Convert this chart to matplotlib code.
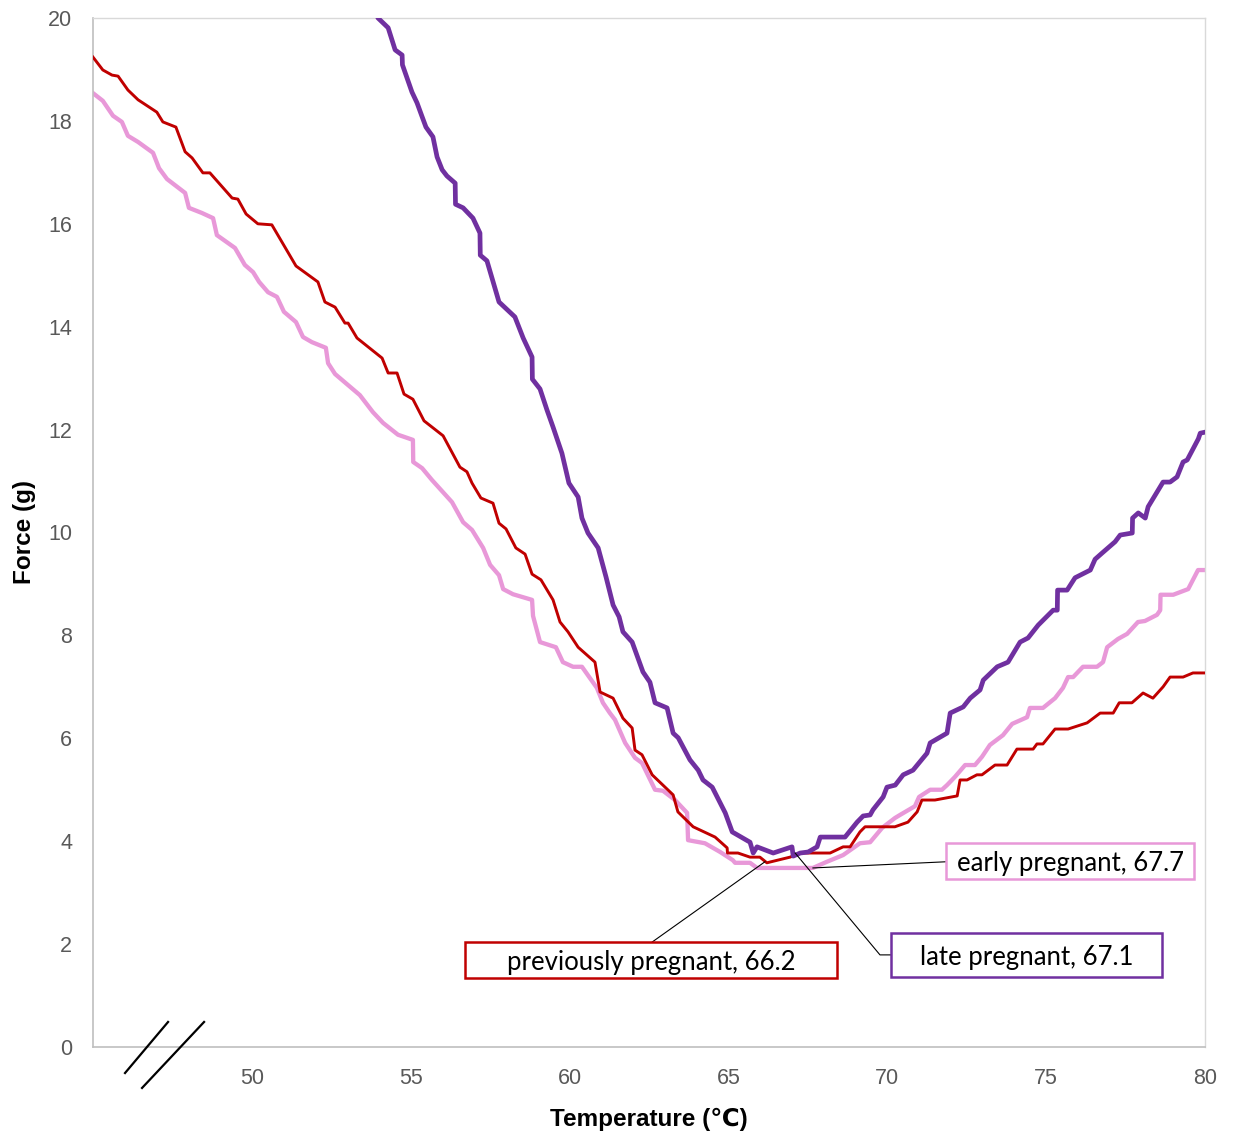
import matplotlib
matplotlib.use("Agg")
import matplotlib.pyplot as plt
from matplotlib.patches import Rectangle
from matplotlib.lines import Line2D

# --- data ---
prev_T = [45.00, 45.31, 45.60, 45.79, 46.10, 46.42, 47.01, 47.20, 47.61, 47.90,
          48.12, 48.46, 48.68, 49.38, 49.56, 49.82, 50.19, 50.63, 51.39, 52.08,
          52.30, 52.62, 52.93, 53.03, 53.31, 54.10, 54.29, 54.57, 54.79, 55.07,
          55.42, 56.02, 56.55, 56.77, 56.93, 57.21, 57.59, 57.78, 58.00, 58.31,
          58.60, 58.82, 59.10, 59.48, 59.70, 59.95, 60.27, 60.80, 60.96, 61.37,
          61.68, 61.97, 62.06, 62.28, 62.60, 63.26, 63.41, 63.89, 64.58, 64.96,
          64.97, 65.30, 65.68, 65.99, 66.21, 66.94, 67.25, 68.20, 68.61, 68.83,
          69.14, 69.30, 70.24, 70.65, 70.94, 71.09, 71.50, 72.20, 72.29, 72.51,
          72.82, 72.98, 73.39, 73.77, 74.08, 74.59, 74.71, 74.90, 75.28, 75.69,
          76.29, 76.70, 77.11, 77.30, 77.70, 78.05, 78.36, 78.68, 78.90, 79.31,
          79.62, 80.00]
prev_F = [19.24, 18.99, 18.89, 18.87, 18.60, 18.41, 18.17, 17.98, 17.88, 17.40,
          17.28, 16.99, 16.99, 16.50, 16.48, 16.19, 16.00, 15.98, 15.18, 14.87,
          14.48, 14.38, 14.07, 14.07, 13.78, 13.39, 13.10, 13.10, 12.69, 12.59,
          12.17, 11.88, 11.27, 11.18, 10.96, 10.67, 10.57, 10.18, 10.07, 9.70,
          9.58, 9.19, 9.08, 8.69, 8.26, 8.07, 7.77, 7.48, 6.90, 6.78,
          6.39, 6.20, 5.77, 5.68, 5.29, 4.90, 4.57, 4.28, 4.08, 3.87,
          3.77, 3.77, 3.69, 3.69, 3.58, 3.69, 3.77, 3.77, 3.89, 3.89,
          4.18, 4.28, 4.28, 4.37, 4.57, 4.80, 4.80, 4.88, 5.19, 5.19,
          5.29, 5.29, 5.48, 5.48, 5.79, 5.79, 5.89, 5.89, 6.18, 6.18,
          6.30, 6.49, 6.49, 6.69, 6.69, 6.88, 6.78, 7.00, 7.19, 7.19,
          7.27, 7.27]

early_T = [45.00, 45.31, 45.63, 45.91, 46.10, 46.42, 46.89, 47.08, 47.33, 47.90,
           48.02, 48.43, 48.78, 48.90, 49.47, 49.78, 50.04, 50.23, 50.51, 50.79,
           51.01, 51.39, 51.61, 51.89, 52.33, 52.40, 52.62, 53.40, 53.81, 54.13,
           54.60, 55.07, 55.08, 55.36, 55.67, 56.30, 56.65, 56.93, 57.28, 57.50,
           57.78, 57.91, 58.22, 58.82, 58.85, 59.07, 59.57, 59.79, 60.11, 60.39,
           60.86, 61.05, 61.27, 61.43, 61.75, 62.06, 62.28, 62.69, 62.94, 63.32,
           63.70, 63.73, 64.26, 64.74, 65.14, 65.21, 65.68, 65.90, 67.66, 68.10,
           68.61, 69.14, 69.46, 69.84, 70.24, 70.40, 70.87, 71.00, 71.35, 71.72,
           71.88, 72.13, 72.45, 72.76, 72.98, 73.23, 73.64, 73.93, 74.40, 74.49,
           74.90, 75.28, 75.53, 75.69, 75.85, 76.16, 76.60, 76.79, 76.92, 77.26,
           77.55, 77.89, 78.11, 78.49, 78.59, 78.60, 79.00, 79.47, 79.78, 80.00]
early_F = [18.54, 18.39, 18.10, 17.98, 17.71, 17.59, 17.38, 17.08, 16.87, 16.60,
           16.31, 16.21, 16.11, 15.78, 15.53, 15.20, 15.06, 14.87, 14.67, 14.58,
           14.29, 14.09, 13.80, 13.70, 13.59, 13.29, 13.08, 12.67, 12.34, 12.13,
           11.90, 11.80, 11.37, 11.25, 11.02, 10.59, 10.20, 10.05, 9.70, 9.37,
           9.17, 8.90, 8.80, 8.69, 8.38, 7.87, 7.77, 7.48, 7.39, 7.39,
           6.98, 6.69, 6.49, 6.36, 5.91, 5.62, 5.52, 5.00, 4.98, 4.80,
           4.55, 4.02, 3.96, 3.79, 3.63, 3.58, 3.58, 3.48, 3.48, 3.60,
           3.73, 3.96, 3.98, 4.26, 4.45, 4.51, 4.68, 4.86, 5.00, 5.00,
           5.09, 5.25, 5.48, 5.48, 5.64, 5.87, 6.06, 6.28, 6.41, 6.59,
           6.59, 6.78, 6.98, 7.19, 7.19, 7.39, 7.39, 7.48, 7.77, 7.93,
           8.03, 8.26, 8.28, 8.40, 8.49, 8.79, 8.79, 8.90, 9.27, 9.27]

late_T = [53.88, 53.97, 54.29, 54.51, 54.73, 54.74, 55.04, 55.20, 55.36, 55.48,
          55.70, 55.83, 55.99, 56.14, 56.40, 56.41, 56.65, 56.96, 57.18, 57.19,
          57.40, 57.78, 58.28, 58.54, 58.82, 58.83, 59.07, 59.29, 59.48, 59.76,
          59.98, 60.27, 60.39, 60.58, 60.90, 61.15, 61.37, 61.56, 61.68, 61.97,
          62.31, 62.53, 62.69, 63.07, 63.26, 63.42, 63.79, 64.05, 64.20, 64.49,
          64.90, 65.12, 65.68, 65.78, 65.90, 66.41, 67.00, 67.04, 67.26, 67.51,
          67.79, 67.89, 68.67, 69.05, 69.24, 69.46, 69.55, 69.87, 69.99, 70.25,
          70.50, 70.81, 71.25, 71.35, 71.88, 71.98, 72.39, 72.61, 72.92, 73.02,
          73.46, 73.80, 74.18, 74.43, 74.75, 75.22, 75.35, 75.36, 75.66, 75.91,
          76.39, 76.54, 76.76, 77.17, 77.33, 77.71, 77.72, 77.90, 78.12, 78.21,
          78.68, 78.90, 79.12, 79.31, 79.44, 79.79, 79.85, 80.00]
late_F = [20.15, 20.00, 19.81, 19.38, 19.28, 19.09, 18.56, 18.35, 18.08, 17.88,
          17.69, 17.30, 17.05, 16.93, 16.79, 16.38, 16.31, 16.11, 15.82, 15.39,
          15.28, 14.48, 14.19, 13.78, 13.41, 12.98, 12.79, 12.38, 12.05, 11.54,
          10.96, 10.69, 10.28, 9.99, 9.70, 9.13, 8.59, 8.36, 8.07, 7.87,
          7.29, 7.09, 6.69, 6.59, 6.10, 6.01, 5.58, 5.38, 5.19, 5.05,
          4.55, 4.18, 3.98, 3.77, 3.89, 3.77, 3.89, 3.71, 3.77, 3.79,
          3.89, 4.08, 4.08, 4.37, 4.49, 4.51, 4.61, 4.86, 5.05, 5.09,
          5.29, 5.38, 5.71, 5.91, 6.10, 6.49, 6.61, 6.78, 6.94, 7.13,
          7.39, 7.48, 7.87, 7.95, 8.20, 8.49, 8.49, 8.88, 8.88, 9.12,
          9.27, 9.48, 9.60, 9.82, 9.95, 9.99, 10.28, 10.38, 10.28, 10.50,
          10.98, 10.98, 11.08, 11.37, 11.41, 11.82, 11.93, 11.95]

labels = ["previously pregnant, 66.2", "early pregnant, 67.7", "late pregnant, 67.1"]
colors = ["#C00000", "#E898D8", "#7030A0"]

# --- figure ---
fig = plt.figure(figsize=(12.33, 11.32), dpi=100)
ax = fig.add_axes([0.0754, 0.0751, 0.9019, 0.909])

ax.plot(prev_T, prev_F, color=colors[0], lw=2.1, zorder=3)
ax.plot(early_T, early_F, color=colors[1], lw=3.1, zorder=2)
ax.plot(late_T, late_F, color=colors[2], lw=3.4, zorder=4)

ax.set_xlim(45, 80)
ax.set_ylim(0, 20)
ax.set_xticks([50, 55, 60, 65, 70, 75, 80])
ax.set_yticks(range(0, 21, 2))
ax.tick_params(length=0, pad=15, labelsize=15.5, labelcolor="#595959")
for t in ax.get_xticklabels() + ax.get_yticklabels():
    t.set_fontfamily(["Liberation Sans", "DejaVu Sans"])

for side in ["left", "bottom"]:
    ax.spines[side].set_color("#bfbfbf")
    ax.spines[side].set_linewidth(1.2)
for side in ["top", "right"]:
    ax.spines[side].set_color("#d9d9d9")
    ax.spines[side].set_linewidth(1.0)

ax.set_xlabel("Temperature (\u2103)", fontsize=17.5, fontweight="bold",
              family=["Liberation Sans", "DejaVu Sans"], labelpad=14)
ax.set_ylabel("Force (g)", fontsize=17.5, fontweight="bold",
              family=["Liberation Sans", "DejaVu Sans"], labelpad=9)

# --- label boxes with leader lines ---
boxes = [(56.71, 68.42, 1.34, 2.04), (71.85, 79.66, 3.27, 3.96), (70.12, 78.65, 1.36, 2.22)]
for (x0, x1, y0, y1), lab, c in zip(boxes, labels, colors):
    ax.add_patch(Rectangle((x0, y0), x1 - x0, y1 - y0, fill=True, facecolor="white",
                           edgecolor=c, lw=1.8, zorder=6))
    ax.text((x0 + x1) / 2, (y0 + y1) / 2 - 0.05, lab, ha="center", va="center",
            fontsize=18.5, family="Lato", color="black", zorder=7)

ax.plot([66.15, 62.6], [3.60, 2.04], color="black", lw=0.8, zorder=5)
ax.plot([67.66, 71.85], [3.48, 3.60], color="black", lw=0.8, zorder=5)
ax.plot([67.1, 69.77, 70.12], [3.77, 1.79, 1.79], color="black", lw=0.8, zorder=5)

# --- axis break marks ---
fig.add_artist(Line2D([0.1014, 0.1363], [0.0521, 0.0972], color="black", lw=1.6))
fig.add_artist(Line2D([0.1152, 0.1655], [0.0389, 0.0972], color="black", lw=1.6))

fig.savefig("out.png", dpi=100)
